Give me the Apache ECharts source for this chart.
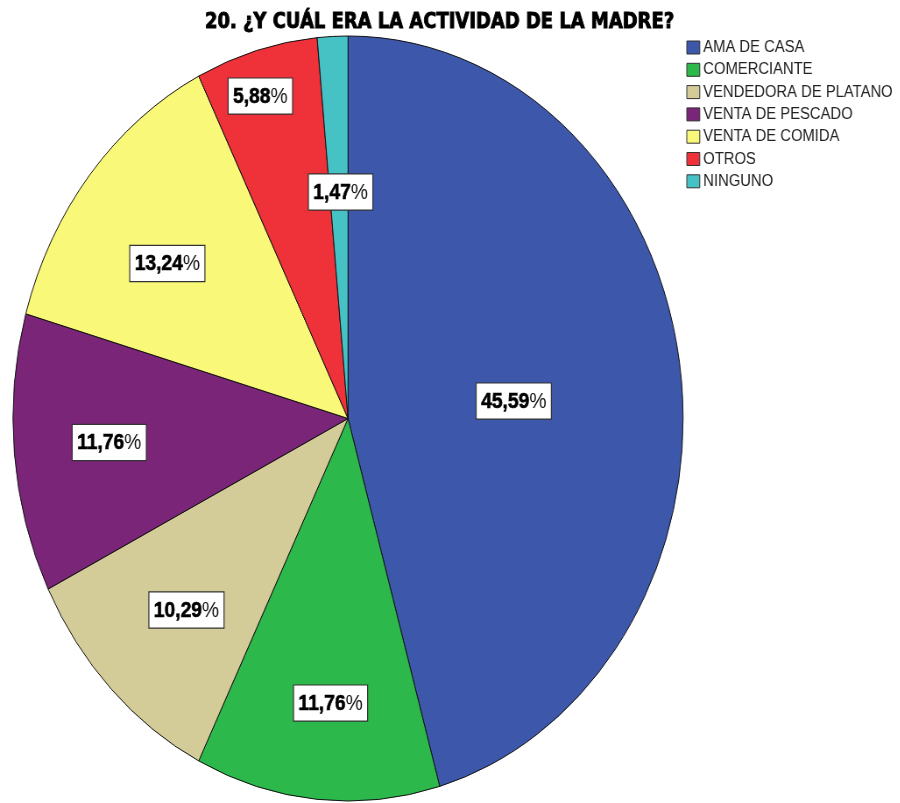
<!DOCTYPE html>
<html>
<head>
<meta charset="utf-8">
<script src="https://cdn.jsdelivr.net/npm/echarts@6/dist/echarts.min.js"></script>
<style>
html,body{margin:0;padding:0;background:#fff;overflow:hidden;width:900px;height:803px;}
#wrap{width:900px;height:803px;overflow:hidden;position:relative;}
#chart{width:1027px;height:803px;transform:scaleX(0.876);transform-origin:0 0;}
</style>
</head>
<body>
<div id="wrap"><div id="chart"></div></div>
<script>
// ---- data ----
var titleText = '20. ¿Y CUÁL ERA LA ACTIVIDAD DE LA MADRE?';
var categories = ['AMA DE CASA', 'COMERCIANTE', 'VENDEDORA DE PLATANO', 'VENTA DE PESCADO', 'VENTA DE COMIDA', 'OTROS', 'NINGUNO'];
var counts = [31, 8, 7, 8, 9, 4, 1];
var colors = ['#3D57AB', '#2DB84B', '#D3CC99', '#7B2579', '#FAF878', '#EF3239', '#46C1C4'];
// label nudges (styling only)
var labelNudge = [[-79, 20], [5, 15], [7, 0], [-3, -1], [2, 18], [-26, -62], [4, 44]];

var R = 382.5;
var center = [397.3, 418.5];
var total = counts.reduce(function (a, b) { return a + b; }, 0);

var chart = echarts.init(document.getElementById('chart'), null, {renderer: 'canvas'});

var mainData = categories.map(function (c, i) {
  return {name: c, value: counts[i], itemStyle: {color: colors[i]}};
});
var labelData = categories.map(function (c, i) {
  return {name: c, value: counts[i]};
});

function fmt(p) {
  var pct = (p.value / total * 100).toFixed(2).replace('.', ',');
  return '{b|' + pct + '}{p|%}';
}

chart.setOption({
  animation: false,
  backgroundColor: '#ffffff',
  title: {
    text: titleText,
    left: 229,
    top: 7,
    textStyle: {fontFamily: 'DejaVu Sans', fontWeight: 900, fontSize: 20.5, color: '#000',
      textBorderColor: '#000', textBorderWidth: 0.9}
  },
  legend: {
    orient: 'vertical',
    left: 778.5,
    top: 34,
    itemWidth: 14.8,
    itemHeight: 13,
    itemGap: 5.3,
    icon: 'rect',
    selectedMode: false,
    textStyle: {fontFamily: 'Liberation Sans', fontSize: 16.9, color: '#222', lineHeight: 17, padding: [0, 0, 0, -1]},
    data: categories.map(function (c, i) {
      return {name: c, itemStyle: {color: colors[i], borderColor: '#333', borderWidth: 1}};
    })
  },
  series: [
    {
      type: 'pie',
      name: 'main',
      center: center,
      radius: [0, R],
      startAngle: 90,
      clockwise: true,
      avoidLabelOverlap: false,
      silent: true,
      label: {show: false},
      labelLine: {show: false},
      itemStyle: {borderColor: '#111', borderWidth: 1},
      emphasis: {disabled: true},
      data: mainData
    },
    {
      type: 'pie',
      name: 'labels',
      center: center,
      radius: [0, R * 1.4],
      startAngle: 90,
      clockwise: true,
      avoidLabelOverlap: false,
      silent: true,
      legendHoverLink: false,
      z: 5,
      itemStyle: {color: 'rgba(0,0,0,0)', borderWidth: 0},
      emphasis: {disabled: true},
      labelLine: {show: false},
      label: {
        show: true,
        position: 'inside',
        formatter: fmt,
        backgroundColor: '#fff',
        borderColor: '#333',
        borderWidth: 1.2,
        padding: [6, 5, 5, 5],
        rich: {
          b: {fontFamily: 'Liberation Sans', fontWeight: 'bold', fontSize: 22, color: '#000', lineHeight: 24,
            textBorderColor: '#000', textBorderWidth: 0.6},
          p: {fontFamily: 'Liberation Sans', fontWeight: 'normal', fontSize: 22, color: '#111', lineHeight: 24}
        }
      },
      labelLayout: function (p) {
        var n = labelNudge[p.dataIndex];
        return {dx: n[0], dy: n[1]};
      },
      data: labelData
    }
  ]
});
</script>
</body>
</html>
